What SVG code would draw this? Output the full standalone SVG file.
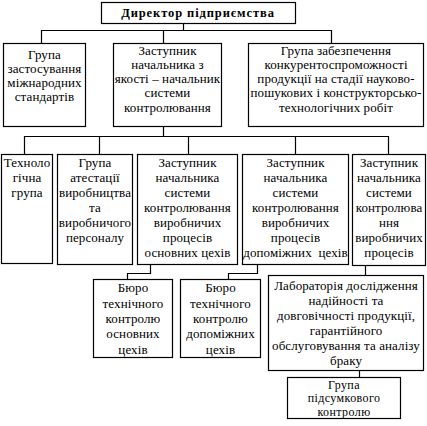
<svg xmlns="http://www.w3.org/2000/svg" width="427" height="426" viewBox="0 0 427 426">
<style>
rect{fill:#fff;stroke:#000;stroke-width:1.2}
.c path{fill:none;stroke:#000;stroke-width:1.2}
text{font-family:"Liberation Serif","Times New Roman",serif;font-size:13px;letter-spacing:0.1px;text-anchor:middle;fill:#000;white-space:pre}
.b{font-weight:bold;font-size:12.5px;letter-spacing:0.9px}
.s{font-size:12px;letter-spacing:0.4px}
</style>
<rect x="0" y="0" width="427" height="426" style="stroke:none"/>
<g class="c" id="connectors">
<path d="M183.5 23V30.5M41.5 43V30.5H331.5V43M163.5 30.5V43"/>
<path d="M163.5 126V136.5M24.5 154V136.5H388.5V154M99.5 136.5V154M188.5 136.5V154M295.5 136.5V154"/>
<path d="M150.5 264V273.5H127.5V279"/>
<path d="M257.5 264V273.5H228.5V279"/>
<path d="M365.5 265V275"/>
<path d="M359.5 370V377"/>
</g>
<g id="director"><rect x="101.5" y="2.5" width="194" height="21"/><text class="b" x="198" y="17">Директор підприємства</text></g>
<g id="intl"><rect x="3.5" y="43.5" width="82" height="83"/>
<text x="44.5" y="59">Група</text><text x="44.5" y="73">застосування</text><text x="44.5" y="87">міжнародних</text><text x="44.5" y="101">стандартів</text></g>
<g id="deputy"><rect x="113.5" y="43.5" width="108" height="83"/>
<text x="167.5" y="55">Заступник</text><text x="167.5" y="69">начальника з</text><text x="167.5" y="83">якості – начальник</text><text x="167.5" y="97">системи</text><text x="167.5" y="112">контролювання</text></g>
<g id="compet"><rect x="248.5" y="43.5" width="175" height="83"/>
<text x="336" y="55">Група забезпечення</text><text x="336" y="69">конкурентоспроможності</text><text x="336" y="83">продукції на стадії науково-</text><text x="336" y="97">пошукових і конструкторсько-</text><text x="336" y="112">технологічних робіт</text></g>
<g id="tech"><rect x="1.5" y="154.5" width="51" height="109"/>
<text x="27" y="167">Техноло</text><text x="27" y="182">гічна</text><text x="27" y="197">група</text></g>
<g id="attest"><rect x="57.5" y="154.5" width="75" height="110"/>
<text x="95" y="167">Група</text><text x="95" y="182">атестації</text><text x="95" y="197">виробництва</text><text x="95" y="212">та</text><text x="95" y="227">виробничого</text><text x="95" y="242">персоналу</text></g>
<g id="main"><rect x="137.5" y="154.5" width="100" height="110"/>
<text x="187.5" y="167">Заступник</text><text x="187.5" y="182">начальника</text><text x="187.5" y="197">системи</text><text x="187.5" y="212">контролювання</text><text x="187.5" y="227">виробничих</text><text x="187.5" y="242">процесів</text><text x="187.5" y="257">основних цехів</text></g>
<g id="aux"><rect x="242.5" y="154.5" width="106" height="110"/>
<text x="295.5" y="167">Заступник</text><text x="295.5" y="182">начальника</text><text x="295.5" y="197">системи</text><text x="295.5" y="212">контролювання</text><text x="295.5" y="227">виробничих</text><text x="295.5" y="242">процесів</text><text x="295.5" y="257">допоміжних  цехів</text></g>
<g id="prod"><rect x="352.5" y="154.5" width="73" height="111"/>
<text x="389" y="167">Заступник</text><text x="389" y="182">начальника</text><text x="389" y="197">системи</text><text x="389" y="212">контролюва</text><text x="389" y="227">ння</text><text x="389" y="242">виробничих</text><text x="389" y="257">процесів</text></g>
<g id="btk1"><rect x="93.5" y="279.5" width="79" height="78"/>
<text x="133" y="292">Бюро</text><text x="133" y="308">технічного</text><text x="133" y="323">контролю</text><text x="133" y="338">основних</text><text x="133" y="354">цехів</text></g>
<g id="btk2"><rect x="180.5" y="279.5" width="80" height="78"/>
<text x="220.5" y="292">Бюро</text><text x="220.5" y="308">технічного</text><text x="220.5" y="323">контролю</text><text x="220.5" y="338">допоміжних</text><text x="220.5" y="354">цехів</text></g>
<g id="lab"><rect x="268.5" y="275.5" width="155" height="95"/>
<text x="346" y="290">Лабораторія дослідження</text><text x="346" y="305">надійності та</text><text x="346" y="320">довговічності продукції,</text><text x="346" y="335">гарантійного</text><text x="346" y="350">обслуговування та аналізу</text><text x="346" y="365">браку</text></g>
<g id="final"><rect x="287.5" y="377.5" width="113" height="41"/>
<text class="s" x="344" y="388.5">Група</text><text class="s" x="344" y="402">підсумкового</text><text class="s" x="344" y="415.5">контролю</text></g>
</svg>
